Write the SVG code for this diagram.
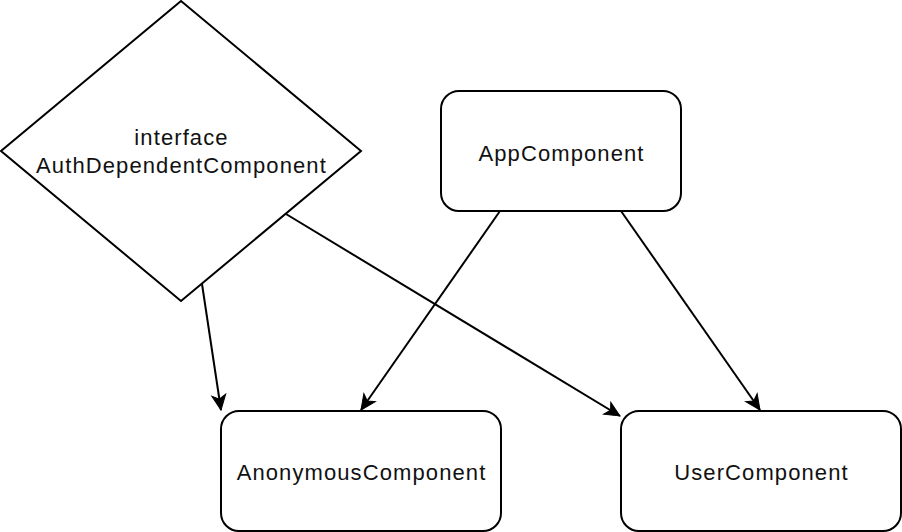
<svg xmlns="http://www.w3.org/2000/svg" width="902" height="532" viewBox="0 0 902 532">
<style>
.n{fill:#fff;stroke:#000;stroke-width:2}
.t{font-family:"Liberation Sans",Arial,sans-serif;font-size:22px;letter-spacing:1.1px;fill:#111;text-anchor:middle}
.e{fill:none;stroke:#000;stroke-width:2}
</style>
<defs>
<marker id="a" markerUnits="userSpaceOnUse" markerWidth="20" markerHeight="20" viewBox="-16 -8 20 16" refX="0" refY="0" orient="auto">
<path d="M0,0 L-15,-7 L-11,0 L-15,7 Z" fill="#000" stroke="#000" stroke-width="1"/>
</marker>
</defs>
<rect width="902" height="532" fill="#fff"/>
<g id="connectors">
<path class="e" d="M202,284 L221,410" marker-end="url(#a)"/>
<path class="e" d="M286,214 L620,416" marker-end="url(#a)"/>
<path class="e" d="M500,211 L361,410" marker-end="url(#a)"/>
<path class="e" d="M621,211 L760,410" marker-end="url(#a)"/>
</g>
<g id="auth">
<path class="n" d="M181,1 L361,151 L181,301 L1,151 Z"/>
<text class="t" x="181.5" y="145">interface</text>
<text class="t" x="181.5" y="173">AuthDependentComponent</text>
</g>
<g id="app">
<rect class="n" x="441" y="91" width="240" height="120" rx="18"/>
<text class="t" x="561.5" y="161">AppComponent</text>
</g>
<g id="anon">
<rect class="n" x="221" y="411" width="280" height="120" rx="18"/>
<text class="t" x="361.5" y="480">AnonymousComponent</text>
</g>
<g id="user">
<rect class="n" x="621" y="411" width="280" height="120" rx="18"/>
<text class="t" x="761.5" y="480">UserComponent</text>
</g>
</svg>
